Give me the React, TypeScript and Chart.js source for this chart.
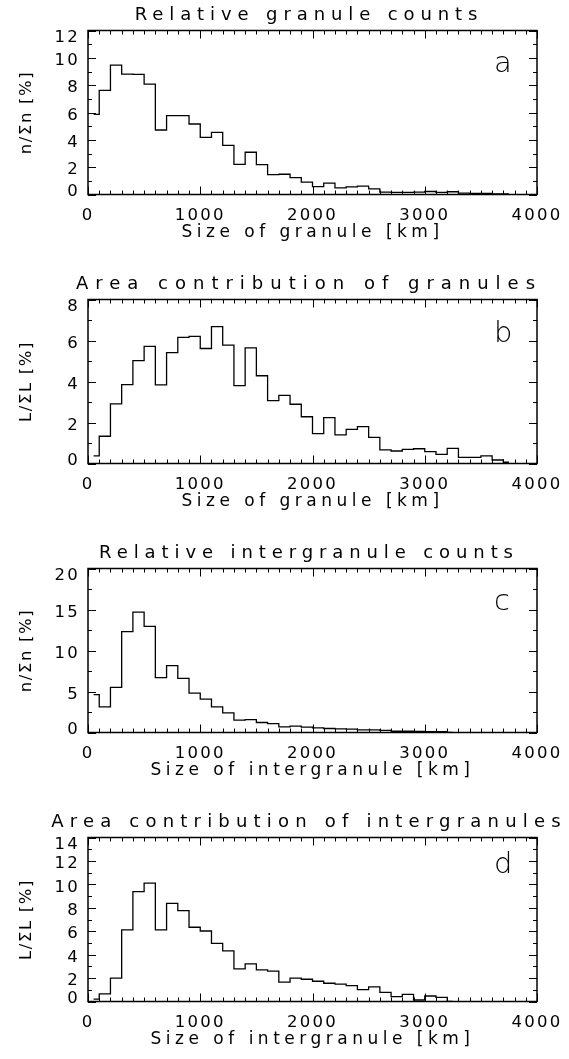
import React, { useEffect, useRef } from "react";
import { Chart, registerables } from "chart.js";

Chart.register(...registerables);

const FONT = "'DejaVu Sans', sans-serif";

// Bin centres of the size histograms [km]
const sizeBins = [
  50, 150, 250, 350, 450, 550, 650, 750, 850, 950, 1050, 1150, 1250, 1350,
  1450, 1550, 1650, 1750, 1850, 1950, 2050, 2150, 2250, 2350, 2450, 2550,
  2650, 2750, 2850, 2950, 3050, 3150, 3250, 3350, 3450, 3550, 3650, 3750,
];

// a) relative granule counts n/Σn [%]
const granuleCounts = [
  5.86, 7.62, 9.46, 8.81, 8.79, 8.08, 4.72, 5.77, 5.77, 5.16, 4.18, 4.55, 3.6,
  2.21, 3.09, 2.19, 1.46, 1.48, 1.24, 0.9, 0.58, 0.83, 0.49, 0.56, 0.61, 0.41,
  0.18, 0.15, 0.15, 0.18, 0.22, 0.15, 0.2, 0.1, 0.08, 0.08, 0.05, 0.04,
];

// b) area contribution of granules L/ΣL [%]
const granuleArea = [
  0.37, 1.33, 2.91, 3.85, 5.02, 5.71, 3.84, 5.41, 6.15, 6.2, 5.61, 6.68, 5.77,
  3.8, 5.64, 4.28, 3.07, 3.32, 2.89, 2.28, 1.46, 2.24, 1.4, 1.66, 1.8, 1.27,
  0.66, 0.61, 0.69, 0.72, 0.58, 0.45, 0.74, 0.3, 0.3, 0.37, 0.17, 0.06,
];

// c) relative intergranule counts n/Σn [%]
const intergranuleCounts = [
  4.62, 3.12, 5.51, 12.29, 14.68, 12.94, 6.69, 8.15, 6.61, 4.79, 4.06, 3.12,
  2.39, 1.5, 1.58, 1.22, 1.09, 0.69, 0.77, 0.65, 0.57, 0.49, 0.45, 0.41, 0.32,
  0.32, 0.25, 0.15, 0.15, 0.12, 0.1, 0.1, 0,
];

// d) area contribution of intergranules L/ΣL [%]
const intergranuleArea = [
  0.2, 0.65, 1.99, 6.11, 9.38, 10.11, 6.11, 8.38, 7.76, 6.34, 6.02, 4.97, 4.32,
  2.78, 3.21, 2.7, 2.59, 1.65, 1.99, 1.9, 1.73, 1.56, 1.48, 1.36, 1.02, 1.25,
  0.78, 0.41, 0.61, 0.13, 0.47, 0.36, 0,
];

const panelTitles = [
  "Relative granule counts",
  "Area contribution of granules",
  "Relative intergranule counts",
  "Area contribution of intergranules",
];
const xTitles = [
  "Size of granule [km]",
  "Size of granule [km]",
  "Size of intergranule [km]",
  "Size of intergranule [km]",
];
const yTitles = ["n/Σn [%]", "L/ΣL [%]", "n/Σn [%]", "L/ΣL [%]"];
const panelLetters = ["a", "b", "c", "d"];
const seriesList = [granuleCounts, granuleArea, intergranuleCounts, intergranuleArea];
const yMaxes = [12, 8, 20, 14];
const yMajorSteps = [2, 2, 5, 2];
const yMinorSteps = [1, 1, 2.5, 1];

// layout (pixels)
const W = 569;
const PAGE_H = 1059;
const STEP = 269;
const BOX_TOP = 30.5;
const BOX_BOTTOM = 194.5;
const BOX_RIGHT = 538;
const BOX_LEFT = 88;
const LETTER_BASE = [41.5, 42.5, 41.5, 35.5];
const TITLE_SPACING = [5.9, 7.0, 5.9, 6.2];
const TITLE_SIZE = 18;
const TITLE_CENTER = 15.5;
const WEIGHT = "normal";

const frameTicks = {
  id: "frameTicks",
  afterDatasetsDraw(chart: any, _args: any, opts: any) {
    const { ctx, chartArea } = chart;
    const { left, right, top, bottom } = chartArea;
    const x = chart.scales.x;
    const y = chart.scales.y;
    ctx.save();
    ctx.strokeStyle = "#000";
    ctx.lineWidth = 1.5;
    ctx.strokeRect(left, top, right - left, bottom - top);
    ctx.lineWidth = 1;
    ctx.beginPath();
    const nx = Math.round((x.max - x.min) / opts.xMinor);
    for (let i = 0; i <= nx; i++) {
      const v = x.min + i * opts.xMinor;
      const px = Math.round(x.getPixelForValue(v)) + 0.5;
      const r = v / opts.xMajor;
      const major = Math.abs(r - Math.round(r)) < 1e-6;
      const len = major ? 8 : 4;
      ctx.moveTo(px, bottom);
      ctx.lineTo(px, bottom - len);
      ctx.moveTo(px, top);
      ctx.lineTo(px, top + len);
    }
    const ny = Math.round((y.max - y.min) / opts.yMinor);
    for (let i = 0; i <= ny; i++) {
      const v = y.min + i * opts.yMinor;
      const py = Math.round(y.getPixelForValue(v)) + 0.5;
      const r = v / opts.yMajor;
      const major = Math.abs(r - Math.round(r)) < 1e-6;
      const len = major ? 8 : 4;
      ctx.moveTo(left, py);
      ctx.lineTo(left + len, py);
      ctx.moveTo(right, py);
      ctx.lineTo(right - len, py);
    }
    ctx.stroke();
    // panel letter
    ctx.fillStyle = "#000";
    (ctx as any).letterSpacing = "0px";
    ctx.font = `300 29px ${FONT}`;
    ctx.textAlign = "left";
    ctx.textBaseline = "alphabetic";
    ctx.fillText(opts.letter, 494, top + opts.letterBase);
    ctx.restore();
  },
};

const textStyle = {
  id: "textStyle",
  beforeDraw(chart: any, _args: any, opts: any) {
    const ctx = chart.ctx as any;
    ctx.letterSpacing = opts.tick + "px";
    const tb = chart.titleBlock;
    if (tb && !tb.__ls) {
      const orig = tb.draw.bind(tb);
      tb.draw = (...a: any[]) => {
        const prev = ctx.letterSpacing;
        ctx.save();
        // centre the title over the plot box instead of the whole canvas
        ctx.translate(opts.titleShift, 0);
        ctx.letterSpacing = opts.title + "px";
        orig(...a);
        ctx.restore();
        ctx.letterSpacing = prev;
      };
      tb.__ls = true;
    }
    for (const id of ["x", "y"]) {
      const s = chart.scales[id];
      if (s && !s.__ls) {
        const orig = s.drawTitle.bind(s);
        const sp = id === "x" ? opts.xTitle : opts.yTitle;
        s.drawTitle = (...a: any[]) => {
          const prev = ctx.letterSpacing;
          ctx.letterSpacing = sp + "px";
          orig(...a);
          ctx.letterSpacing = prev;
        };
        s.__ls = true;
      }
    }
    const items = chart.scales.y.getLabelItems();
    items.forEach((it: any, i: number) => {
      if (it.__shifted) return;
      const dy = i === 0 ? opts.firstDy : i === items.length - 1 ? opts.lastDy : opts.midDy;
      it.options.translation[1] += dy;
      it.__shifted = true;
    });
  },
};

function Panel({ index }: { index: number }) {
  const ref = useRef<HTMLCanvasElement | null>(null);
  const h = index === 3 ? PAGE_H - 3 * STEP : STEP;
  useEffect(() => {
    if (!ref.current) return;
    const values = seriesList[index];
    const data = values.map((v, i) => ({ x: sizeBins[i], y: v }));
    const tickFont = { family: FONT, size: 16.5, weight: WEIGHT as any, lineHeight: 1.2 };
    const xAxisH = h - BOX_BOTTOM;
    const xTitleCenter = 233;
    const titleLH = TITLE_SIZE * 1.2;
    const chart = new Chart(ref.current, {
      type: "line",
      data: {
        datasets: [
          {
            data,
            stepped: "middle",
            borderColor: "#000",
            borderWidth: 1.3,
            pointRadius: 0,
            fill: false,
          },
        ],
      },
      options: {
        animation: false,
        responsive: false,
        devicePixelRatio: 1,
        events: [],
        layout: { padding: { left: 0, right: W - BOX_RIGHT, top: 0, bottom: 0 } },
        plugins: {
          legend: { display: false },
          tooltip: { enabled: false },
          title: {
            display: true,
            text: panelTitles[index],
            color: "#000",
            fullSize: true,
            font: { family: FONT, size: TITLE_SIZE, weight: WEIGHT as any, lineHeight: 1.2 },
            padding: {
              top: TITLE_CENTER - titleLH / 2,
              bottom: BOX_TOP - (TITLE_CENTER - titleLH / 2) - titleLH,
            },
          },
          frameTicks: {
            xMinor: 100,
            xMajor: 1000,
            yMinor: yMinorSteps[index],
            yMajor: yMajorSteps[index],
            letter: panelLetters[index],
            letterBase: LETTER_BASE[index],
          },
          textStyle: {
            tick: 2.2,
            title: TITLE_SPACING[index],
            titleShift: (BOX_LEFT + BOX_RIGHT) / 2 - BOX_RIGHT / 2 - 4,
            xTitle: 4.5,
            yTitle: 1.6,
            firstDy: -3,
            lastDy: 7,
            midDy: 3,
          },
        } as any,
        scales: {
          x: {
            type: "linear",
            min: 0,
            max: 4000,
            grid: { display: false, drawTicks: false },
            border: { display: false },
            ticks: {
              stepSize: 1000,
              color: "#000",
              font: tickFont,
              padding: 11,
              autoSkip: false,
              maxRotation: 0,
              callback: (v: any) => String(v),
            },
            title: {
              display: true,
              text: xTitles[index],
              color: "#000",
              font: { family: FONT, size: 17, weight: WEIGHT as any, lineHeight: 1.2 },
              padding: { top: 0, bottom: h - xTitleCenter - 17 * 0.6 },
            },
            afterFit: (s: any) => {
              s.height = xAxisH;
            },
          },
          y: {
            type: "linear",
            min: 0,
            max: yMaxes[index],
            grid: { display: false, drawTicks: false },
            border: { display: false },
            ticks: {
              stepSize: yMajorSteps[index],
              color: "#000",
              font: tickFont,
              padding: 8,
              autoSkip: false,
              callback: (v: any) => String(v),
            },
            title: {
              display: true,
              text: yTitles[index],
              color: "#000",
              font: { family: FONT, size: 16.5, weight: WEIGHT as any, lineHeight: 1.2 },
              padding: { top: 17, bottom: 0 },
            },
            afterFit: (s: any) => {
              s.width = BOX_LEFT;
            },
          },
        },
      },
      plugins: [textStyle as any, frameTicks as any],
    });
    return () => chart.destroy();
  }, [index, h]);
  return (
    <canvas
      ref={ref}
      width={W}
      height={h}
      style={{ position: "absolute", left: 0, top: index * STEP, width: W, height: h, display: "block" }}
    />
  );
}

export default function App() {
  return (
    <div style={{ position: "absolute", left: 0, top: 0, width: W, height: PAGE_H, background: "#fff", overflow: "hidden" }}>
      {[0, 1, 2, 3].map((i) => (
        <Panel key={i} index={i} />
      ))}
    </div>
  );
}
